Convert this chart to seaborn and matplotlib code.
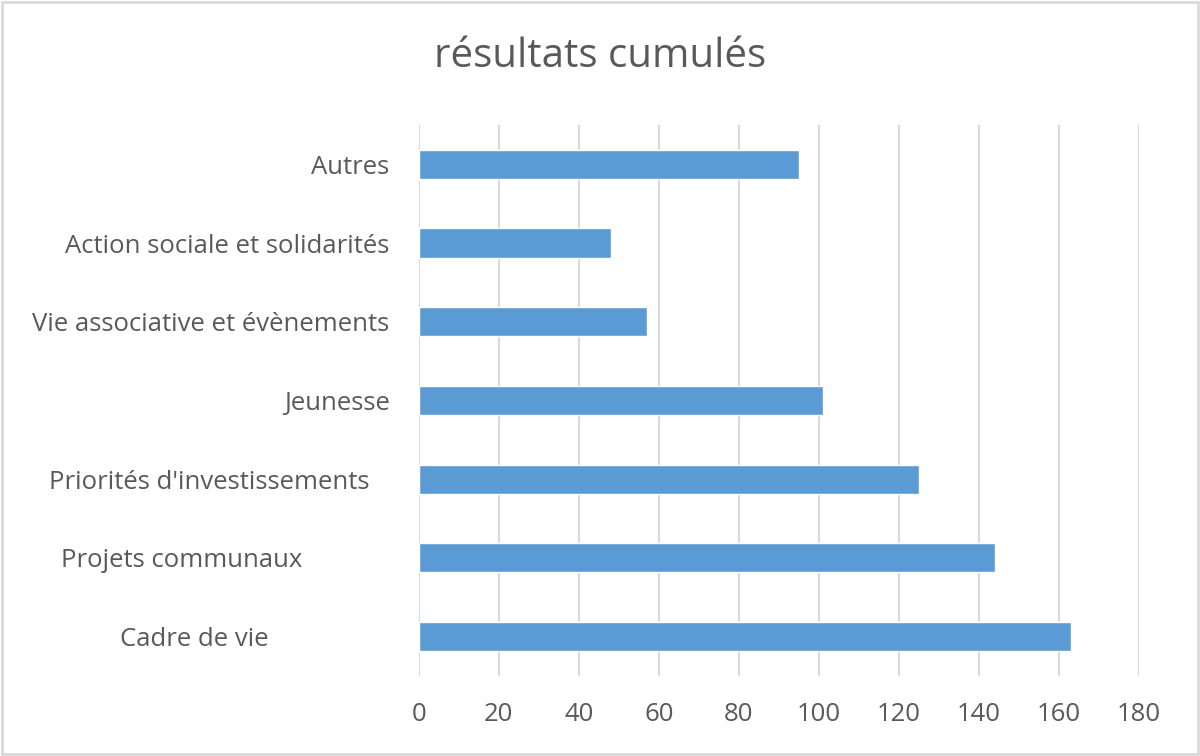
import matplotlib
matplotlib.use("Agg")
import matplotlib.pyplot as plt
import seaborn as sns
import pandas as pd

categories = ["Autres", "Action sociale et solidarités", "Vie associative et évènements",
              "Jeunesse", "Priorités d'investissements   ", "Projets communaux" + " " * 13,
              "Cadre de vie" + " " * 18]
values = [95, 48, 57, 101, 125, 144, 163]
x_ticks = [0, 20, 40, 60, 80, 100, 120, 140, 160, 180]

df = pd.DataFrame({"categorie": categories, "valeur": values})

sns.set_style("white")
plt.rcParams['font.family'] = ['Open Sans', 'DejaVu Sans']
text_col = "#595959"

fig = plt.figure(figsize=(12, 7.56), dpi=100)
ax = fig.add_axes([0.349, 0.1058, 0.6, 0.7289])
sns.barplot(data=df, x="valeur", y="categorie", color="#5b9bd5", saturation=1,
            width=0.37, ax=ax, zorder=3)

ax.set_xlim(0, 180)
ax.set_ylim(6.5, -0.5)
ax.set_xticks(x_ticks)
ax.grid(axis="x", color="#d9d9d9", linewidth=1.5, zorder=0)
ax.set_axisbelow(True)
for s in ax.spines.values():
    s.set_visible(False)
ax.tick_params(axis="both", length=0, labelsize=18.5, colors=text_col)
ax.tick_params(axis="y", pad=21)
ax.tick_params(axis="x", pad=19)
ax.set_xlabel("")
ax.set_ylabel("")

fig.text(0.5, 0.925, "résultats cumulés", ha="center", va="center",
         fontsize=29, color=text_col)

# cadre gris autour du graphique
fig.patches.append(plt.Rectangle((0.002, 0.002), 0.996, 0.996, transform=fig.transFigure,
                                 fill=False, edgecolor="#d9d9d9", linewidth=2))

fig.savefig("out.png", dpi=100)
plt.close()
